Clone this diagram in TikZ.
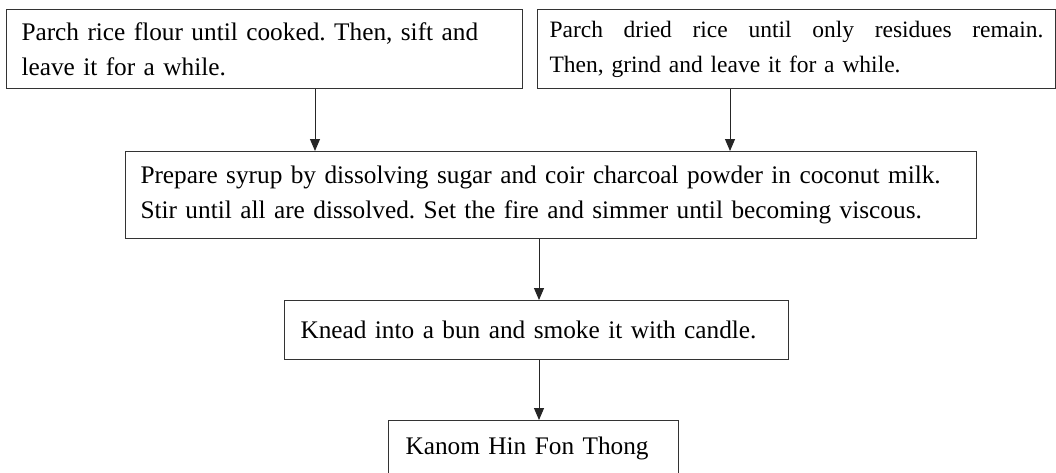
\documentclass[tikz,border=0pt]{standalone}
\usepackage{fontspec}
\setmainfont{Liberation Serif}
\usetikzlibrary{arrows.meta}
\frenchspacing
\begin{document}
\begin{tikzpicture}[x=1pt,y=-1pt,
  stepbox/.style={draw=black!80, line width=1pt, anchor=north west, rectangle,
    font=\fontsize{25.3}{35}\selectfont, align=left, inner ysep=0pt},
  arr/.style={draw=black!85, line width=1pt, -{Triangle[width=10pt,length=12pt]}}]
\useasboundingbox (0,0) rectangle (1056,472);
\fill[white] (0,0) rectangle (1056,472);
\node[stepbox, minimum width=516pt, minimum height=79pt, text width=486pt, inner xsep=15pt] (b1) at (6,9)
  {Parch rice flour until cooked. Then, sift and\\leave it for a while.};
\node[stepbox, minimum width=518pt, minimum height=79pt, text width=494pt, inner xsep=12pt,
  font=\fontsize{23.5}{35}\selectfont] (b2) at (537,9)
  {\makebox[494pt][s]{Parch\hfill dried\hfill rice\hfill until\hfill only\hfill residues\hfill remain.}\\Then, grind and leave it for a while.};
\node[stepbox, minimum width=851pt, minimum height=87pt, text width=821pt, inner xsep=15pt] (b3) at (125,151)
  {Prepare syrup by dissolving sugar and coir charcoal powder in coconut milk.\\Stir until all are dissolved. Set the fire and simmer until becoming viscous.};
\node[stepbox, minimum width=504pt, minimum height=59pt, text width=472pt, inner xsep=16pt] (b4) at (284,300)
  {Knead into a bun and smoke it with candle.};
\node[stepbox, minimum width=290pt, minimum height=56pt, text width=256pt, inner xsep=17pt] (b5) at (388,420)
  {Kanom Hin Fon Thong};
\coordinate (xa) at (315,0);
\coordinate (xb) at (730,0);
\coordinate (xc) at (539,0);
\draw[arr] (b1.south -| xa) -- (b3.north -| xa);
\draw[arr] (b2.south -| xb) -- (b3.north -| xb);
\draw[arr] (b3.south -| xc) -- (b4.north -| xc);
\draw[arr] (b4.south -| xc) -- (b5.north -| xc);
\end{tikzpicture}
\end{document}
